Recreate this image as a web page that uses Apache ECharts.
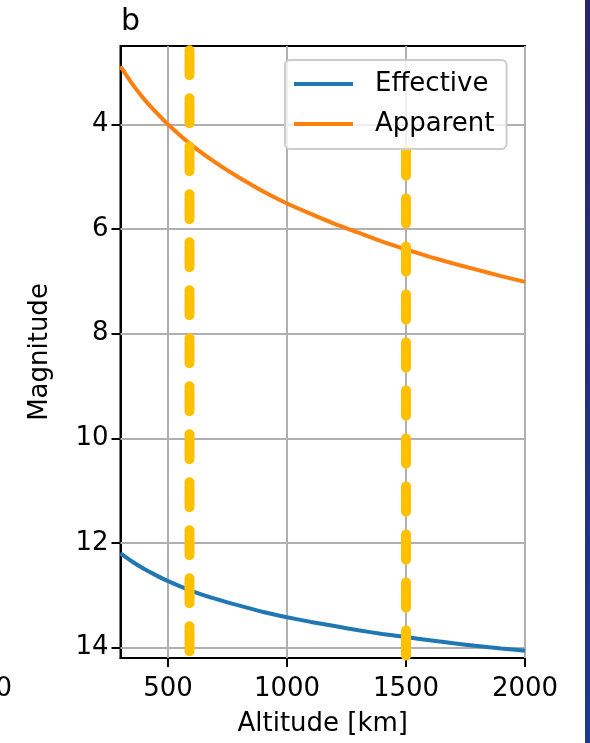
<!DOCTYPE html>
<html>
<head>
<meta charset="utf-8">
<script src="https://cdn.jsdelivr.net/npm/echarts@6/dist/echarts.min.js"></script>
<style>
html,body{margin:0;padding:0;background:#fff;}
#chart{width:590px;height:743px;}
</style>
</head>
<body>
<div id="chart"></div>
<script>
// ---- data ----
var altitudes = [300, 350, 400, 450, 500, 600, 700, 800, 900, 1000, 1100, 1200, 1300, 1400, 1500, 1600, 1700, 1800, 1900, 2000];
var effective = [12.20, 12.36, 12.50, 12.62, 12.73, 12.92, 13.07, 13.20, 13.32, 13.42, 13.51, 13.59, 13.67, 13.74, 13.80, 13.86, 13.92, 13.97, 14.02, 14.06];
var apparent  = [2.89, 3.23, 3.52, 3.77, 4.00, 4.40, 4.73, 5.02, 5.28, 5.51, 5.71, 5.90, 6.07, 6.24, 6.39, 6.53, 6.66, 6.78, 6.90, 7.01];
var markerAltitudes = [590, 1500];
var markerTops = [2.58, 4.5];
var markerBottom = 14.3;
var xTicks = [500, 1000, 1500, 2000];
var yTicks = [4, 6, 8, 10, 12, 14];
var xRange = [300, 2000];
var yRange = [2.5, 14.2];
var seriesNames = ['Effective', 'Apparent'];
var titleText = 'b';
var xName = 'Altitude [km]';
var yName = 'Magnitude';
var strayLabel = '0';

var FONT = 'DejaVu Sans';
var chart = echarts.init(document.getElementById('chart'), null, {renderer: 'canvas'});

function pairs(xs, ys) { return xs.map(function (x, i) { return [x, ys[i]]; }); }
function plain(v) { return String(v); }

var gridMarks = xTicks.map(function (v) { return {xAxis: v}; })
  .concat(yTicks.map(function (v) { return {yAxis: v}; }));

var series = [
  {
    name: '__grid', type: 'line', data: [], z: 1, silent: true,
    markLine: {
      silent: true, symbol: ['none', 'none'], animation: false, z: 1,
      label: {show: false},
      lineStyle: {color: '#b0b0b0', width: 2, type: 'solid'},
      emphasis: {disabled: true},
      data: gridMarks
    }
  },
  {
    name: seriesNames[0], type: 'line', data: pairs(altitudes, effective),
    symbol: 'none', showSymbol: false, smooth: 0.2, z: 2,
    lineStyle: {color: '#1f77b4', width: 4}, itemStyle: {color: '#1f77b4'}
  },
  {
    name: seriesNames[1], type: 'line', data: pairs(altitudes, apparent),
    symbol: 'none', showSymbol: false, smooth: 0.2, z: 2,
    lineStyle: {color: '#ff7f0e', width: 4}, itemStyle: {color: '#ff7f0e'}
  }
];
markerAltitudes.forEach(function (a, i) {
  series.push({
    name: '__marker' + i, type: 'line', z: 3, symbol: 'none', showSymbol: false,
    data: [[a, markerTops[i]], [a, markerBottom]],
    lineStyle: {color: '#ffc000', width: 10, type: [25, 23], cap: 'round'}
  });
});

var axisText = {fontFamily: FONT, fontSize: 26, color: '#000'};

chart.setOption({
  animation: false,
  backgroundColor: '#ffffff',
  title: {
    text: titleText, left: 121, top: 7, padding: 0,
    textStyle: {fontFamily: FONT, fontSize: 30, fontWeight: 'normal', color: '#000'}
  },
  grid: {
    left: 120.5, top: 46, right: 65, bottom: 85,
    show: true, borderColor: '#000', borderWidth: 2, backgroundColor: 'transparent'
  },
  legend: {
    data: seriesNames, orient: 'vertical', left: 285, top: 60, z: 20,
    icon: 'rect', itemWidth: 59, itemHeight: 4, itemGap: 10,
    padding: [9, 12, 10, 9],
    backgroundColor: 'rgba(255,255,255,0.8)', borderColor: '#cccccc',
    borderWidth: 2, borderRadius: 5,
    textStyle: {fontFamily: FONT, fontSize: 26, color: '#000', lineHeight: 30, padding: [0, 0, 0, 17]},
    selectedMode: false
  },
  xAxis: {
    type: 'value', min: xRange[0], max: xRange[1],
    name: xName, nameLocation: 'middle', nameGap: 53,
    nameTextStyle: axisText,
    axisLine: {show: true, onZero: false, lineStyle: {color: '#000', width: 2}},
    axisTick: {show: true, length: 9, lineStyle: {color: '#000', width: 2}, customValues: xTicks},
    axisLabel: {show: true, margin: 18, customValues: xTicks, formatter: plain, fontFamily: FONT, fontSize: 26, color: '#000'},
    splitLine: {show: false}
  },
  yAxis: {
    type: 'value', min: yRange[0], max: yRange[1], inverse: true,
    name: yName, nameLocation: 'middle', nameGap: 67, nameRotate: 90,
    nameTextStyle: axisText,
    axisLine: {show: true, onZero: false, lineStyle: {color: '#000', width: 2}},
    axisTick: {show: true, length: 9, lineStyle: {color: '#000', width: 2}, customValues: yTicks},
    axisLabel: {show: true, margin: 12, customValues: yTicks, formatter: plain, fontFamily: FONT, fontSize: 26, color: '#000'},
    splitLine: {show: false}
  },
  graphic: [
    {
      type: 'rect', left: 585, top: 0, silent: true,
      shape: {width: 5, height: 743},
      style: {
        fill: new echarts.graphic.LinearGradient(0, 0, 0, 1, [
          {offset: 0, color: '#2a2470'}, {offset: 1, color: '#1a3a8a'}
        ])
      }
    },
    {
      type: 'text', right: 578, top: 676, silent: true,
      style: {text: strayLabel, fontFamily: FONT, fontSize: 26, fill: '#000'}
    }
  ],
  series: series
});
</script>
</body>
</html>
